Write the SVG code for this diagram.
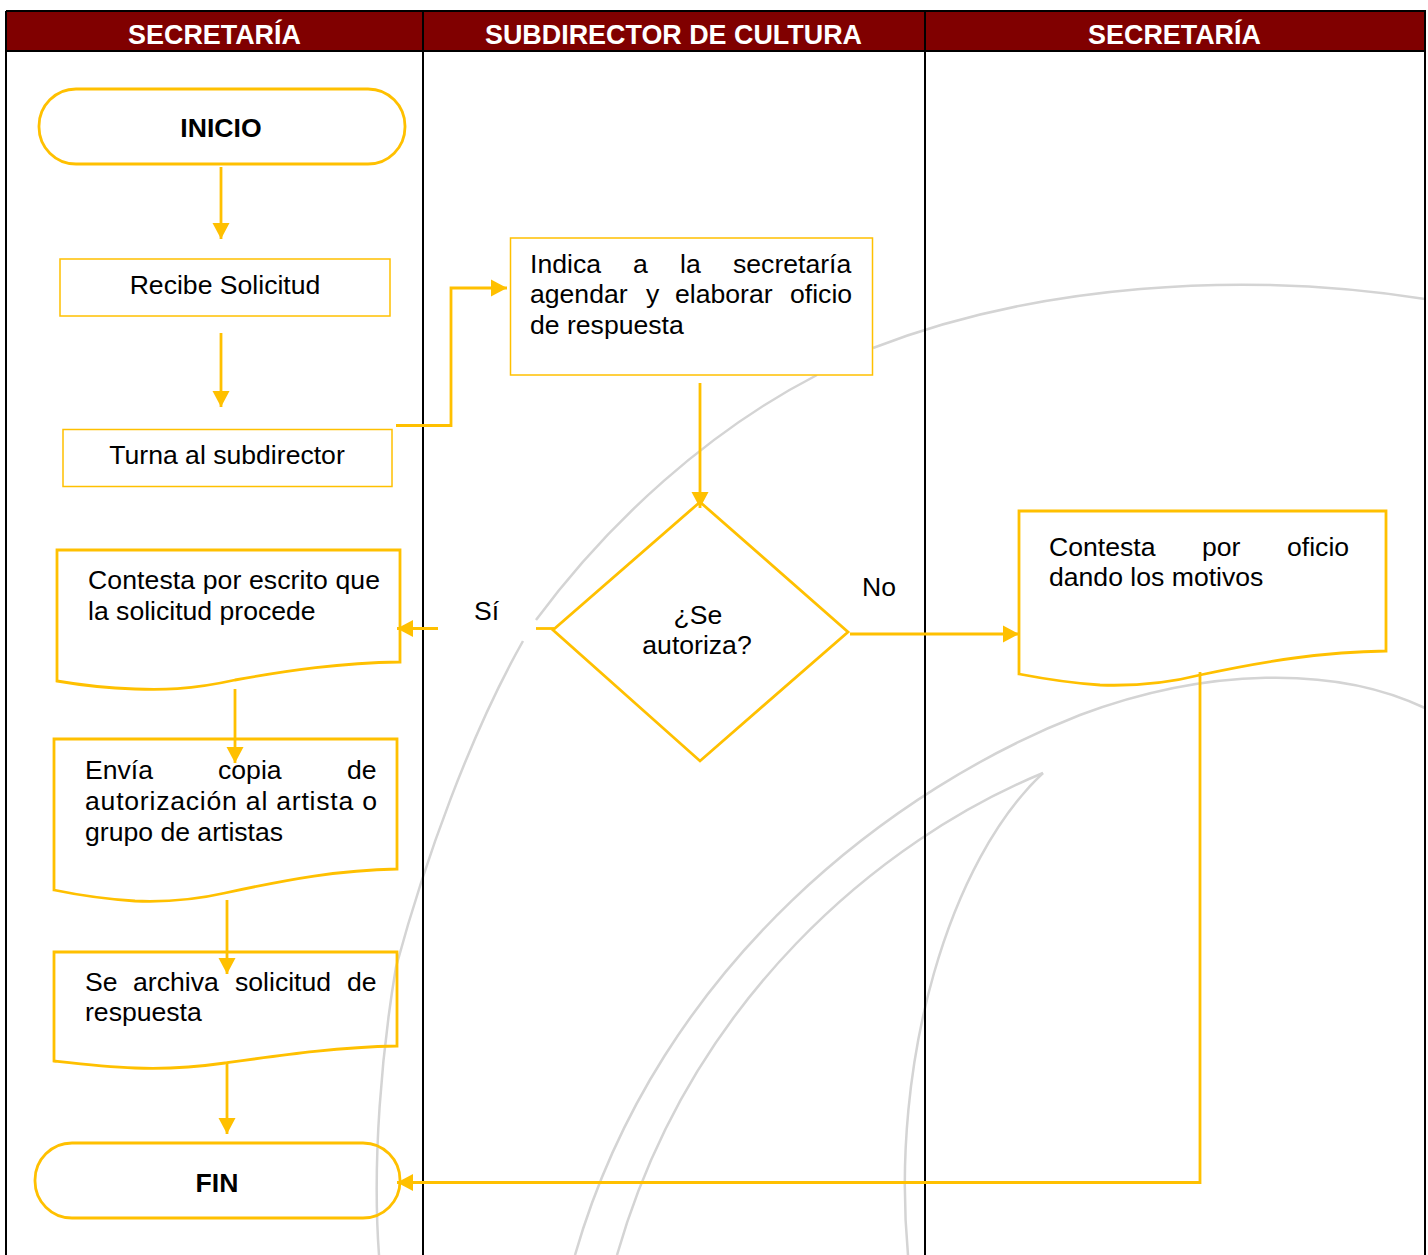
<svg xmlns="http://www.w3.org/2000/svg" width="1428" height="1255" viewBox="0 0 1428 1255">
<style>
text{font-family:"Liberation Sans",Arial,sans-serif;font-size:26.6px;fill:#000}
.h{font-weight:bold;font-size:26.9px;fill:#fff;text-anchor:middle}
.b{font-weight:bold;text-anchor:middle}
.m{text-anchor:middle}
.n{fill:none;stroke:#FFC000;stroke-width:2.8}
.t{fill:none;stroke:#FFC000;stroke-width:1.5}
.c{fill:none;stroke:#FFC000;stroke-width:2.8}
.w{fill:none;stroke:#d4d4d4;stroke-width:2.5}
.k{fill:none;stroke:#000;stroke-width:2}
</style>
<defs><marker id="a" markerUnits="userSpaceOnUse" markerWidth="17" markerHeight="18" refX="16" refY="9" orient="auto"><path d="M0 0.500L16 9L0 17.500Z" fill="#FFC000"/></marker></defs>
<rect width="1428" height="1255" fill="#fff"/>
<g id="watermark">
<path class="w" d="M1425 299C1240 270 1035 285 873 348"/>
<path class="w" d="M817 375C710 430 610 520 536 620"/>
<path class="w" d="M523 641C470 735 425 860 396 967C382 1050 372 1160 379 1255"/>
<path class="w" d="M1425 708C1335 665 1205 668 1080 715C900 785 660 960 575 1255"/>
<path class="w" d="M1043 773C880 840 690 1000 617 1255"/>
<path class="w" d="M1043 773C950 860 890 1060 908 1255"/>
</g>
<g id="table">
<rect x="6" y="11" width="1419" height="40" fill="#800000"/>
<path class="k" d="M6 11H1425V1255M6 11V1255M6 51H1425M423 11V1255M925 11V1255"/>
<text class="h" x="214.500" y="44">SECRETARÍA</text>
<text class="h" x="673.500" y="44">SUBDIRECTOR DE CULTURA</text>
<text class="h" x="1174.500" y="44">SECRETARÍA</text>
</g>
<g id="inicio"><rect class="n" x="39" y="89" width="366" height="75" rx="37" ry="37"/><text class="b" x="221" y="137">INICIO</text></g>
<g id="recibe"><rect class="t" x="60" y="259" width="330" height="57"/><text class="m" x="225" y="294">Recibe Solicitud</text></g>
<g id="turna"><rect class="t" x="63" y="429.500" width="329" height="57"/><text class="m" x="227" y="464">Turna al subdirector</text></g>
<g id="indica"><rect class="t" x="510.500" y="238" width="362" height="137" style="fill:#fff"/>
<text y="273"><tspan x="530">Indica</tspan><tspan x="633">a</tspan><tspan x="680">la</tspan><tspan x="733">secretaría</tspan></text>
<text y="303"><tspan x="530">agendar</tspan><tspan x="646">y</tspan><tspan x="675">elaborar</tspan><tspan x="790">oficio</tspan></text>
<text x="530" y="334">de respuesta</text></g>
<g id="contesta-escrito"><path class="n" d="M57 550H400V662C340 663 290 670 235 680C190 690 160 690 135 689C105 688 80 685 57 681Z"/>
<text x="88" y="589" textLength="292">Contesta por escrito que</text><text x="88" y="620">la solicitud procede</text></g>
<g id="envia"><path class="n" d="M54 739H397V869C340 870 290 879 225 893C190 901 160 902 135 901C105 899 78 895 54 890Z"/>
<text y="779"><tspan x="85">Envía</tspan><tspan x="218">copia</tspan><tspan x="347">de</tspan></text>
<text x="85" y="810" textLength="292">autorización al artista o</text>
<text x="85" y="841">grupo de artistas</text></g>
<g id="archiva"><path class="n" d="M54 952H397V1046C340 1047 290 1054 225 1063C190 1068 160 1069 135 1068C105 1067 80 1064 54 1061Z"/>
<text y="991"><tspan x="85">Se</tspan><tspan x="133">archiva</tspan><tspan x="235">solicitud</tspan><tspan x="347">de</tspan></text>
<text x="85" y="1021">respuesta</text></g>
<g id="fin"><rect class="n" x="35" y="1143" width="365" height="75" rx="37" ry="37"/><text class="b" x="217" y="1192">FIN</text></g>
<g id="decision"><path class="n" d="M700 502L848 632L700 761L553 630Z"/><text x="698" y="624" class="m">¿Se</text><text x="697" y="654" class="m">autoriza?</text></g>
<g id="contesta-oficio"><path class="n" d="M1019 511H1386V651C1325 652 1270 660 1200 675C1165 684 1130 686 1100 685C1070 683 1045 679 1019 674Z"/>
<text y="556"><tspan x="1049">Contesta</tspan><tspan x="1202">por</tspan><tspan x="1287">oficio</tspan></text>
<text x="1049" y="586">dando los motivos</text></g>
<g id="connectors">
<path class="c" marker-end="url(#a)" d="M221 167V239"/>
<path class="c" marker-end="url(#a)" d="M221 333V407"/>
<path class="c" marker-end="url(#a)" d="M396 425.500H451V288H507"/>
<path class="c" marker-end="url(#a)" d="M700 383V508"/>
<path class="c" marker-end="url(#a)" d="M235 689V763"/>
<path class="c" marker-end="url(#a)" d="M227 900V974"/>
<path class="c" marker-end="url(#a)" d="M227 1062V1134"/>
<path class="c" marker-end="url(#a)" d="M438 628.500H397"/>
<path class="c" d="M536 628.500H554"/>
<path class="c" marker-end="url(#a)" d="M850 634H1019"/>
<path class="c" marker-end="url(#a)" d="M1200 672V1182.500H397"/>
</g>
<text id="si" x="474" y="620">Sí</text>
<text id="no" x="862" y="596">No</text>
</svg>
